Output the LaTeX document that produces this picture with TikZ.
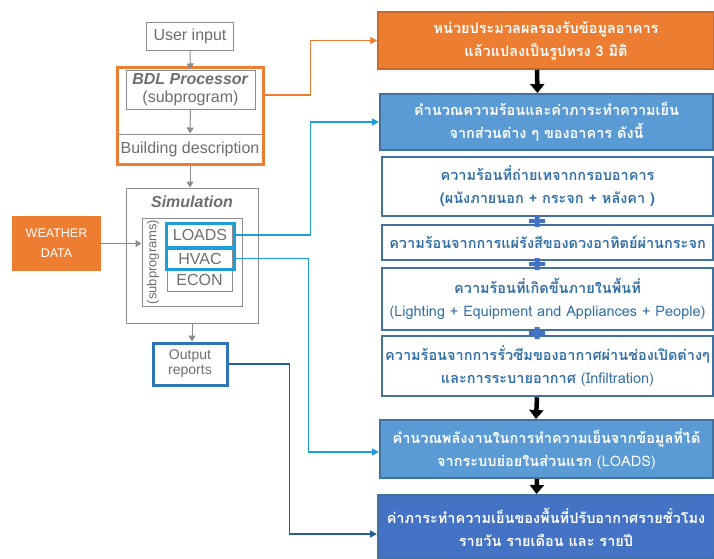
\documentclass[tikz,border=0pt]{standalone}
\usepackage{fontspec}
\setmainfont{Liberation Sans}
\newfontfamily\thai[Script=Thai]{Loma}
\usetikzlibrary{arrows.meta}

\definecolor{orng}{HTML}{ED7D31}
\definecolor{ltblue}{HTML}{5B9BD5}
\definecolor{dkblue}{HTML}{4472C4}
\definecolor{edge}{HTML}{41719C}
\definecolor{cyanl}{HTML}{1E9ED8}
\definecolor{outblue}{HTML}{2E75B6}
\definecolor{txtgrey}{HTML}{6E6E6E}
\definecolor{linegrey}{HTML}{8C8C8C}
\definecolor{thaiblue}{HTML}{3470A8}

\begin{document}
\begin{tikzpicture}[x=1pt,y=-1pt,
  greybox/.style={draw=linegrey,line width=1pt,text=txtgrey,inner sep=0pt,align=center,font=\fontsize{16}{18}\selectfont},
  garrow/.style={draw=linegrey,line width=1pt,-{Triangle[width=7pt,length=6pt]}},
  rbox/.style={inner sep=0pt,align=center,font=\thai\bfseries\fontsize{14.5}{23}\selectfont},
  fillbox/.style={rbox,draw=edge,line width=2pt,text=white},
  subbox/.style={rbox,draw=edge,line width=2.5pt,fill=white,text=thaiblue,minimum width=331pt},
  bigarrow/.style={line width=4.5pt,-{Triangle[width=14pt,length=9pt]}},
  link/.style={line width=1.5pt,-{Triangle[width=7pt,length=7pt]}}]
   \useasboundingbox (0,0) rectangle (714,558);
   \clip (0,0) rectangle (714,558);
   \fill[white] (0,0) rectangle (714,558);

   % left column: DOE-2 flow
   \path (190,36) node[greybox,minimum width=87pt,minimum height=28pt] (user) {User input};
   \path (190.5,89.5) node[greybox,minimum width=129pt,minimum height=39pt] (proc)
     {\textbf{\textit{BDL Processor}}\\(subprogram)};
   \path (190,149) node[greybox,minimum width=144pt,minimum height=30pt] (desc) {Building description};
   \path (190,115.5) node[draw=orng,line width=3pt,minimum width=146pt,minimum height=97pt] (bdl) {};

   \path (192,255.5) node[greybox,minimum width=132pt,minimum height=135pt] (sim) {};
   \path (192,202) node[text=txtgrey,font=\bfseries\itshape\fontsize{16}{18}\selectfont] (simt) {Simulation};
   \path (192,262) node[greybox,minimum width=100pt,minimum height=88pt] (subp) {};
   \path (153,262) node[rotate=90,text=txtgrey,font=\fontsize{13}{15}\selectfont] (subpt) {(subprograms)};
   \path (199.5,257.5) node[greybox,minimum width=65pt,minimum height=67pt] (col) {};
   \path (199.5,280) node[greybox,minimum width=65pt,minimum height=22pt] (econ) {ECON};
   \path (200,235) node[greybox,draw=cyanl,line width=3pt,minimum width=68pt,minimum height=24pt] (loads) {LOADS};
   \path (200,258.5) node[greybox,draw=cyanl,line width=3pt,minimum width=68pt,minimum height=21pt] (hvac) {HVAC};

   \path (56.5,243.5) node[fill=orng,minimum width=89pt,minimum height=55pt,text=white,align=center,
     font=\fontsize{12.5}{20}\selectfont] (wthr) {WEATHER\\DATA};
   \path (190,364) node[greybox,draw=outblue,line width=3pt,minimum width=74pt,minimum height=42pt,
     font=\fontsize{14}{15}\selectfont] (out) {Output\\reports};

   \draw[garrow] (user) -- (proc);
   \draw[garrow] (proc) -- (desc);
   \draw[garrow] (bdl.south) -- (bdl.south |- sim.north);
   \draw[garrow] (wthr.east) -- (wthr.east -| subp.west);
   \draw[garrow] (sim.south) -- (sim.south |- out.north);

   % right column: Thai description
   \path (546,40.5) node[fillbox,fill=orng,draw=orng!85!black,line width=1.5pt,minimum width=336pt,minimum height=57pt] (prep)
     {หน่วยประมวลผลรองรับข้อมูลอาคาร\\แล้วแปลงเป็นรูปทรง 3 มิติ};
   \path (546.5,122) node[fillbox,fill=ltblue,minimum width=333pt,minimum height=56pt] (calc1)
     {คำนวณความร้อนและค่าภาระทำความเย็น\\จากส่วนต่าง ๆ ของอาคาร ดังนี้};
   \path (547.5,186.5) node[subbox,minimum height=59pt] (heatA)
     {ความร้อนที่ถ่ายเทจากกรอบอาคาร\\(ผนังภายนอก + กระจก + หลังคา )};
   \path (547.5,242.5) node[subbox,minimum height=35pt] (heatB)
     {ความร้อนจากการแผ่รังสีของดวงอาทิตย์ผ่านกระจก};
   \path (547.5,299) node[subbox,minimum height=62pt] (heatC)
     {ความร้อนที่เกิดขึ้นภายในพื้นที่\\{\mdseries(Lighting + Equipment and Appliances + People)}};
   \path (547.5,366) node[subbox,minimum height=60pt] (heatD)
     {ความร้อนจากการรั่วซึมของอากาศผ่านช่องเปิดต่างๆ\\และการระบายอากาศ {\mdseries(Infiltration)}};
   \path (546.5,449) node[fillbox,fill=ltblue,minimum width=333pt,minimum height=58pt] (calc2)
     {คำนวณพลังงานในการทำความเย็นจากข้อมูลที่ได้\\จากระบบย่อยในส่วนแรก {\mdseries(LOADS)}};
   \path (546,527) node[fillbox,fill=dkblue,minimum width=336pt,minimum height=64pt] (calc3)
     {ค่าภาระทำความเย็นของพื้นที่ปรับอากาศรายชั่วโมง\\รายวัน รายเดือน และ รายปี};

   \draw[bigarrow] ([xshift=-9pt]prep.south) -- ([xshift=-9pt]calc1.north);
   \draw[bigarrow] ([xshift=-10.5pt]heatD.south) -- ([xshift=-10.5pt]calc2.north);
   \draw[bigarrow] ([xshift=-9.5pt]calc2.south) -- ([xshift=-9.5pt]calc3.north);
   \foreach \y in {221,264,333}
     \fill[dkblue] (529,\y-2) rectangle (545,\y+2) (534.5,\y-6) rectangle (539.5,\y+6);

   % links between the two columns
   \draw[link,orng] ([yshift=20.5pt]bdl.east) -- ++(46,0) |- (prep.west);
   \draw[link,cyanl] (loads.east) -- ++(75,0) |- (calc1.west);
   \draw[link,cyanl] (hvac.east) -- ++(73,0) |- ([yshift=-3pt]calc2.west);
   \draw[link,outblue!80!black] (out.east) -- ++(61,0) |- ([yshift=-7pt]calc3.west);
\end{tikzpicture}
\end{document}
